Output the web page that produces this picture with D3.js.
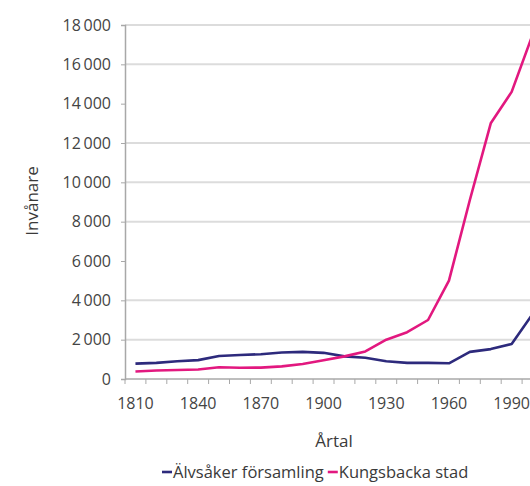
<!DOCTYPE html>
<html>
<head>
<meta charset="utf-8">
<script src="https://cdn.jsdelivr.net/npm/d3@7"></script>
<style>
  body { margin: 0; background: #fff; }
  text { font-family: "Open Sans", sans-serif; fill: #3a3a3a; }
</style>
</head>
<body>
<div id="chart"></div>
<script>
// years (categories), one every 10 years
var years = [1810, 1820, 1830, 1840, 1850, 1860, 1870, 1880, 1890, 1900,
             1910, 1920, 1930, 1940, 1950, 1960, 1970, 1980, 1990, 2000];
var alvsaker = [780, 820, 900, 960, 1170, 1220, 1260, 1350, 1380, 1330,
                1150, 1080, 900, 820, 820, 800, 1380, 1520, 1780, 3300];
var kungsbacka = [380, 430, 460, 480, 600, 570, 580, 640, 760, 950,
                  1150, 1400, 2000, 2380, 3000, 5000, 9100, 13000, 14600, 17500];
var yTicks = [0, 2000, 4000, 6000, 8000, 10000, 12000, 14000, 16000, 18000];
var gridValues = [2000, 4000, 8000, 10000, 12000, 16000, 18000];
var xLabels = [1810, 1840, 1870, 1900, 1930, 1960, 1990];
var seriesNames = ["Älvsåker församling", "Kungsbacka stad"];

var width = 530, height = 486;
var plotLeft = 125, plotTop = 25, plotBottom = 379;
var band = 20.9;

var svg = d3.select("#chart").append("svg")
    .attr("width", width)
    .attr("height", height);

var x = d3.scaleBand()
    .domain(years)
    .range([plotLeft, plotLeft + band * years.length])
    .padding(0);
var y = d3.scaleLinear()
    .domain([0, 18000])
    .range([plotBottom, plotTop]);

var sv = d3.formatLocale({decimal: ",", thousands: "\u2009", grouping: [3], currency: ["", ""]});
var fmt = sv.format(",");

// gridlines
svg.append("g")
    .selectAll("line")
    .data(gridValues)
    .enter().append("line")
    .attr("x1", plotLeft)
    .attr("x2", width)
    .attr("y1", function (d) { return y(d); })
    .attr("y2", function (d) { return y(d); })
    .style("stroke", "#dcdcdc")
    .style("stroke-width", 2);

// y axis
var yAxis = svg.append("g")
    .attr("transform", "translate(" + plotLeft + ",0)")
    .call(d3.axisLeft(y).tickValues(yTicks).tickSize(4).tickPadding(10).tickFormat(fmt));
yAxis.select(".domain").style("stroke", "#a8a8a8").style("stroke-width", 1.5);
yAxis.selectAll(".tick line").style("stroke", "#a8a8a8");
yAxis.selectAll("text").style("font-size", "16px").style("font-family", "'Open Sans', sans-serif").style("fill", "#444");

// x axis: line, boundary ticks, labels
svg.append("line")
    .attr("x1", plotLeft).attr("x2", width)
    .attr("y1", plotBottom).attr("y2", plotBottom)
    .style("stroke", "#a8a8a8").style("stroke-width", 1.5);
svg.append("g")
    .selectAll("line")
    .data(years)
    .enter().append("line")
    .attr("x1", function (d) { return x(d); })
    .attr("x2", function (d) { return x(d); })
    .attr("y1", plotBottom)
    .attr("y2", plotBottom + 5)
    .style("stroke", "#a8a8a8");
var xAxis = svg.append("g")
    .attr("transform", "translate(0," + plotBottom + ")")
    .call(d3.axisBottom(x).tickValues(xLabels).tickSize(0).tickPadding(19));
xAxis.select(".domain").remove();
xAxis.selectAll("text").style("font-size", "16px").style("font-family", "'Open Sans', sans-serif").style("fill", "#444");

// axis titles
svg.append("text")
    .attr("x", 334)
    .attr("y", 447)
    .attr("text-anchor", "middle")
    .style("font-size", "17px")
    .text("Årtal");
svg.append("text")
    .attr("transform", "translate(38,201) rotate(-90)")
    .attr("text-anchor", "middle")
    .style("font-size", "17px")
    .text("Invånare");

// lines
var line = d3.line()
    .x(function (d, i) { return x(years[i]) + x.bandwidth() / 2; })
    .y(function (d) { return y(d); });
var colors = ["#2d2a7c", "#e2187f"];
[alvsaker, kungsbacka].forEach(function (s, i) {
    svg.append("path")
        .datum(s)
        .attr("d", line)
        .style("fill", "none")
        .style("stroke", colors[i])
        .style("stroke-width", 2.6)
        .style("stroke-linejoin", "round");
});

// legend
var lg = svg.append("g").attr("transform", "translate(162,478)");
var lx = 0;
seriesNames.forEach(function (name, i) {
    lg.append("line")
        .attr("x1", lx).attr("x2", lx + 10)
        .attr("y1", -6).attr("y2", -6)
        .style("stroke", colors[i]).style("stroke-width", 2.6);
    var t = lg.append("text")
        .attr("x", lx + 11)
        .attr("y", 0)
        .style("font-size", "16.5px")
        .text(name);
    lx += 11 + t.node().getComputedTextLength() + 4;
});
</script>
</body>
</html>
